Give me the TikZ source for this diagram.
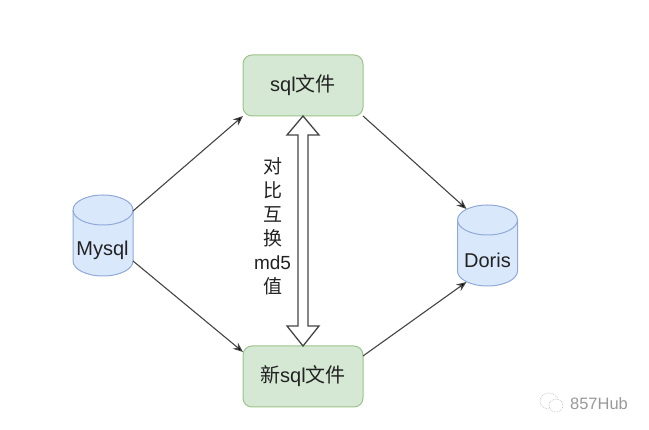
\documentclass[tikz,border=0pt]{standalone}
\usepackage{fontspec}
\setmainfont{Liberation Sans}
\newfontfamily\cjk{Noto Sans CJK SC}
\usetikzlibrary{arrows.meta}
\usetikzlibrary{calc}
\definecolor{dbfill}{HTML}{DAE8FC}
\definecolor{dbline}{HTML}{8FAAD8}
\definecolor{boxfill}{HTML}{D5E8D4}
\definecolor{boxline}{HTML}{9CC48A}
\definecolor{arrowline}{HTML}{444444}
\definecolor{inktext}{HTML}{222222}
\tikzset{
  dbnode/.style={rectangle, minimum width=60pt, minimum height=81pt, inner sep=0pt, outer sep=0pt},
  dbtext/.style={text=inktext, font=\fontsize{20}{20}\selectfont},
  filebox/.style={rectangle, rounded corners=9pt, draw=boxline, fill=boxfill, line width=1pt,
    minimum width=120pt, minimum height=61pt, inner sep=0pt, outer sep=0pt,
    text=inktext, font=\fontsize{20}{24}\selectfont},
  flow/.style={draw=arrowline, line width=1.1pt, -{Stealth[length=10pt,width=8pt,fill=black]}}
}
\begin{document}
\begin{tikzpicture}[x=1pt,y=-1pt]
\useasboundingbox (0,0) rectangle (649,430);
\node [dbnode] (mysql) at (103,235.5) {};
\node [dbnode] (doris) at (487.5,245.5) {};
\foreach \db in {mysql,doris} {
  \draw [dbline, fill=dbfill, line width=1pt]
    ($(\db.north west)+(0,15)$) arc [start angle=180, delta angle=-180, x radius=30pt, y radius=15pt]
    -- ($(\db.south east)+(0,-15)$) arc [start angle=0, delta angle=-180, x radius=30pt, y radius=15pt] -- cycle;
  \draw [dbline, line width=1pt]
    ($(\db.north west)+(0,15)$) arc [start angle=180, delta angle=180, x radius=30pt, y radius=15pt];
}
\node [dbtext] (mysqltext) at ($(mysql)+(-0.5,15)$) {Mysql};
\node [dbtext] (doristext) at ($(doris)+(0,15)$) {Doris};
\node [filebox] (sqlbox) at (303,85.5) {\raisebox{-1pt}{sql{\cjk 文件}}};
\node [filebox] (newbox) at (303,376.5) {\raisebox{-1pt}{{\cjk 新}sql{\cjk 文件}}};

\draw [flow] ($(mysql.north east)+(0,16)$) -- (sqlbox.south west);
\draw [flow] ($(mysql.south east)+(0,-15)$) -- ($(newbox.north west)+(0,6)$);
\draw [flow] (sqlbox.south east) -- ($(doris.north west)+(9,4)$);
\draw [flow] ($(newbox.north east)+(0,10)$) -- ($(doris.south west)+(9,-4)$);

% hollow double arrow
\draw [arrowline, fill=white, line width=1.3pt, line join=miter]
  (sqlbox.south) -- ++(16,19) -- ++(-11,0) -- ($(newbox.north)+(5,-20)$) -- ++(11,0)
  -- (newbox.north) -- ++(-16,-20) -- ++(11,0) -- ($(sqlbox.south)+(-5,19)$) -- ++(-11,0) -- cycle;

\node [text=inktext, align=center, font=\fontsize{19}{24}\selectfont] (swaplabel) at (272.5,226)
  {{\cjk 对}\\{\cjk 比}\\{\cjk 互}\\{\cjk 换}\\md5\\{\cjk 值}};

% watermark
\draw [black!25, line width=0.7pt, densely dotted] (549,401) ellipse (9 and 8);
\draw [black!25, line width=0.7pt, densely dotted, fill=white] (556,405.5) ellipse (7 and 6.5);
\node [text=black!40, font=\fontsize{16.5}{18}\selectfont] (hublabel) at (599,404) {857Hub};
\end{tikzpicture}
\end{document}
